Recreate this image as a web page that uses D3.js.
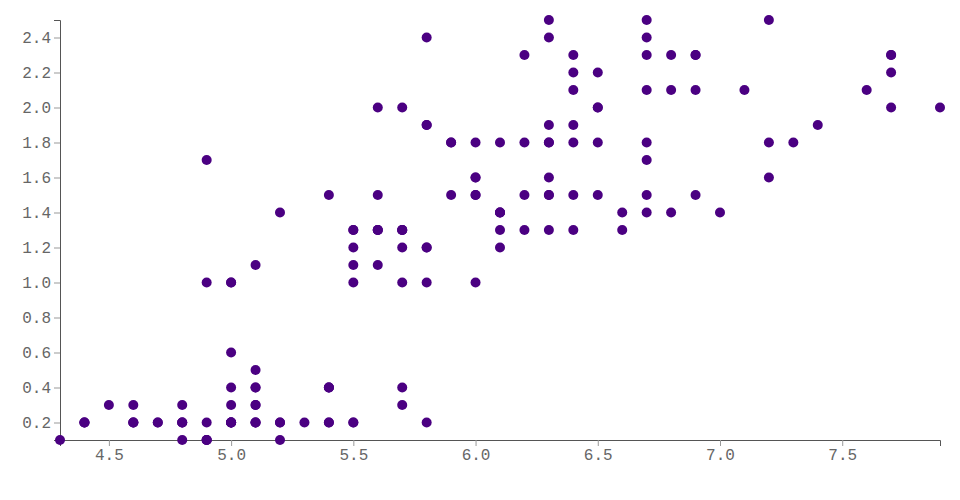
<!DOCTYPE html>
<html>
<head>
<meta charset="utf-8">
<script src="https://cdn.jsdelivr.net/npm/d3@7"></script>
<style>
  body { margin: 0; background: #fff; }
  svg { display: block; }
  .axis text { font-family: "Liberation Mono", monospace; font-size: 16px; fill: #666; }
  .axis .tick line { stroke: #999; }
  .axis .domain { stroke: #555; }
</style>
</head>
<body>
<svg id="chart" width="960" height="500"></svg>
<script>
// Iris data: sepal length (x) and petal width (y)
const sepalLength = [
  5.1,4.9,4.7,4.6,5.0,5.4,4.6,5.0,4.4,4.9,5.4,4.8,4.8,4.3,5.8,5.7,5.4,5.1,5.7,5.1,
  5.4,5.1,4.6,5.1,4.8,5.0,5.0,5.2,5.2,4.7,4.8,5.4,5.2,5.5,4.9,5.0,5.5,4.9,4.4,5.1,
  5.0,4.5,4.4,5.0,5.1,4.8,5.1,4.6,5.3,5.0,
  7.0,6.4,6.9,5.5,6.5,5.7,6.3,4.9,6.6,5.2,5.0,5.9,6.0,6.1,5.6,6.7,5.6,5.8,6.2,5.6,
  5.9,6.1,6.3,6.1,6.4,6.6,6.8,6.7,6.0,5.7,5.5,5.5,5.8,6.0,5.4,6.0,6.7,6.3,5.6,5.5,
  5.5,6.1,5.8,5.0,5.6,5.7,5.7,6.2,5.1,5.7,
  6.3,5.8,7.1,6.3,6.5,7.6,4.9,7.3,6.7,7.2,6.5,6.4,6.8,5.7,5.8,6.4,6.5,7.7,7.7,6.0,
  6.9,5.6,7.7,6.3,6.7,7.2,6.2,6.1,6.4,7.2,7.4,7.9,6.4,6.3,6.1,7.7,6.3,6.4,6.0,6.9,
  6.7,6.9,5.8,6.8,6.7,6.7,6.3,6.5,6.2,5.9
];
const petalWidth = [
  0.2,0.2,0.2,0.2,0.2,0.4,0.3,0.2,0.2,0.1,0.2,0.2,0.1,0.1,0.2,0.4,0.4,0.3,0.3,0.3,
  0.2,0.4,0.2,0.5,0.2,0.2,0.4,0.2,0.2,0.2,0.2,0.4,0.1,0.2,0.1,0.2,0.2,0.1,0.2,0.2,
  0.3,0.3,0.2,0.6,0.4,0.3,0.2,0.2,0.2,0.2,
  1.4,1.5,1.5,1.3,1.5,1.3,1.6,1.0,1.3,1.4,1.0,1.5,1.0,1.4,1.3,1.4,1.5,1.0,1.5,1.1,
  1.8,1.3,1.5,1.2,1.3,1.4,1.4,1.7,1.5,1.0,1.1,1.0,1.2,1.6,1.5,1.6,1.5,1.3,1.3,1.3,
  1.2,1.4,1.2,1.0,1.3,1.2,1.3,1.3,1.1,1.3,
  2.5,1.9,2.1,1.8,2.2,2.1,1.7,1.8,1.8,2.5,2.0,1.9,2.1,2.0,2.4,2.3,1.8,2.2,2.3,1.5,
  2.3,2.0,2.0,1.8,2.1,1.8,1.8,1.8,2.1,1.6,1.9,2.0,2.2,1.5,1.4,2.3,2.4,1.8,1.8,2.1,
  2.4,2.3,1.9,2.3,2.5,2.3,1.9,2.0,2.3,1.8
];
const xTicks = [4.5, 5.0, 5.5, 6.0, 6.5, 7.0, 7.5];
const yTicks = [0.2, 0.4, 0.6, 0.8, 1.0, 1.2, 1.4, 1.6, 1.8, 2.0, 2.2, 2.4];

const margin = {top: 20, right: 20, bottom: 60, left: 60};
const width = 960, height = 500;
const svg = d3.select("#chart");

const x = d3.scaleLinear().domain(d3.extent(sepalLength)).range([margin.left, width - margin.right]);
const y = d3.scaleLinear().domain(d3.extent(petalWidth)).range([height - margin.bottom, margin.top]);

svg.append("g")
  .attr("class", "axis")
  .attr("transform", `translate(0,${height - margin.bottom})`)
  .call(d3.axisBottom(x).tickValues(xTicks).tickFormat(d3.format(".1f")));

svg.append("g")
  .attr("class", "axis")
  .attr("transform", `translate(${margin.left},0)`)
  .call(d3.axisLeft(y).tickValues(yTicks).tickFormat(d3.format(".1f")));

const points = sepalLength.map((v, i) => ({x: v, y: petalWidth[i]}));
svg.append("g")
  .selectAll("circle")
  .data(points)
  .join("circle")
  .attr("cx", d => x(d.x))
  .attr("cy", d => y(d.y))
  .attr("r", 5)
  .attr("fill", "#4b0082");
</script>
</body>
</html>
